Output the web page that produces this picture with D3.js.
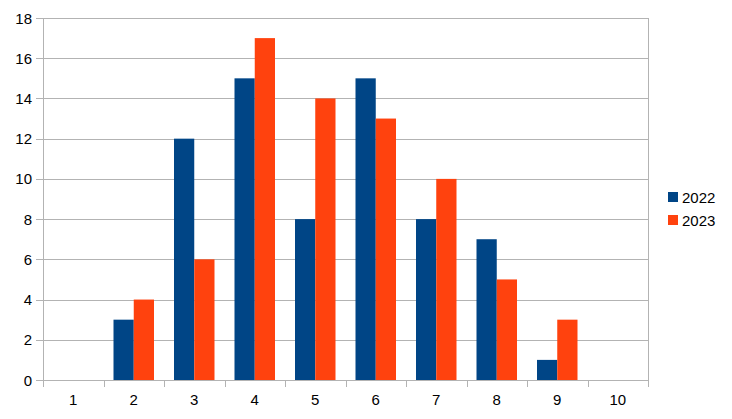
<!DOCTYPE html>
<html><head><meta charset="utf-8">
<script src="https://cdn.jsdelivr.net/npm/d3@7"></script>
<style>body{margin:0;background:#fff;} text{font-family:"Liberation Sans",Arial,sans-serif;}</style>
</head><body><svg id="c" width="732" height="419"></svg>
<script>
const categories = ["1","2","3","4","5","6","7","8","9","10"];
const series = ["2022","2023"];
const values2022 = [0,3,12,15,8,15,8,7,1,0];
const values2023 = [0,4,6,17,14,13,10,5,3,0];
const yTicks = [0,2,4,6,8,10,12,14,16,18];
const colors = ["#004586","#ff420e"];

const svg = d3.select("#c");
const L=43, R=648, T=18, B=380;
const x = d3.scaleBand().domain(categories).range([L,R]);
const y = d3.scaleLinear().domain([0,18]).range([B,T]);
const xsub = d3.scaleBand().domain(series).range([10, x.bandwidth()-10]);

const grid="#b3b3b3";
svg.append("g").selectAll("line").data(yTicks).join("line")
  .attr("x1",L-7).attr("x2",R+0.5).attr("y1",d=>Math.round(y(d))+0.5).attr("y2",d=>Math.round(y(d))+0.5)
  .attr("stroke",grid).attr("stroke-width",1);
svg.append("line").attr("x1",L+0.5).attr("x2",L+0.5).attr("y1",T).attr("y2",B+7).attr("stroke",grid);
svg.append("line").attr("x1",R+0.5).attr("x2",R+0.5).attr("y1",T).attr("y2",B+7).attr("stroke",grid);
svg.append("g").selectAll("line").data(categories.slice(1)).join("line")
  .attr("x1",d=>Math.round(x(d))+0.5).attr("x2",d=>Math.round(x(d))+0.5).attr("y1",B).attr("y2",B+7).attr("stroke",grid);

const data=[values2022,values2023];
series.forEach((s,i)=>{
  svg.append("g").selectAll("rect").data(categories).join("rect")
    .attr("x",c=>x(c)+xsub(s)).attr("width",xsub.bandwidth())
    .attr("y",(c,j)=>y(data[i][j])).attr("height",(c,j)=>B-y(data[i][j]))
    .attr("fill",colors[i]);
});
svg.append("g").selectAll("text").data(yTicks).join("text")
  .attr("x",32).attr("y",d=>y(d)+5.5).attr("text-anchor","end").attr("font-size",15).attr("fill","#000").text(d=>d);
svg.append("g").selectAll("text").data(categories).join("text")
  .attr("x",c=>x(c)+x.bandwidth()/2).attr("y",405).attr("text-anchor","middle").attr("font-size",15).attr("fill","#000").text(c=>c);
series.forEach((s,i)=>{
  svg.append("rect").attr("x",668).attr("y",192+i*23).attr("width",10).attr("height",10).attr("fill",colors[i]);
  svg.append("text").attr("x",682).attr("y",203+i*23).attr("font-size",15).attr("fill","#000").text(s);
});
</script></body></html>
